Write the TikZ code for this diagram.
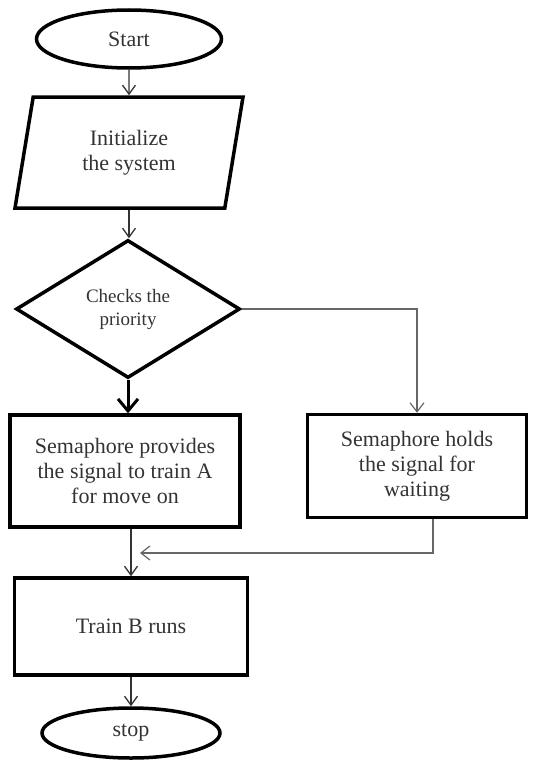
\documentclass[tikz,border=0pt]{standalone}
\usepackage{fontspec}
\setmainfont{Liberation Serif}
\usetikzlibrary{shapes.geometric,arrows.meta}
\begin{document}
\begin{tikzpicture}[x=1pt,y=-1pt,
  every node/.style={font=\fontsize{22}{25}\selectfont, text=black!80, align=center, inner sep=0pt},
  shp/.style={draw=black, line width=3.5pt},
  term/.style={shp, ellipse},
  io/.style={shp, trapezium, trapezium left angle=68, trapezium right angle=112, trapezium stretches body},
  dec/.style={shp, diamond, font=\fontsize{19}{23}\selectfont},
  proc/.style={shp, rectangle},
  arr/.style={draw=black!80, line width=1.3pt, -{Straight Barb[length=9pt,width=13pt]}},
  thickarr/.style={draw=black, line width=3pt, -{Straight Barb[length=12pt,width=20pt]}},
  garr/.style={draw=black!60, line width=1.2pt, -{Straight Barb[length=9pt,width=14pt]}}
]
\useasboundingbox (0,0) rectangle (550,760);
\node[term, minimum width=185pt, minimum height=58pt] (start) at (129,39) {Start};
\node[io, minimum width=228pt, minimum height=111pt] (init) at (129,152.5) {Initialize\\the system};
\node[dec, minimum width=224pt, minimum height=138pt] (chk) at (128,309) {Checks the\\priority};
\node[proc, minimum width=230pt, minimum height=112pt] (boxA) at (125,471) {Semaphore provides\\the signal to train A\\for move on};
\node[proc, minimum width=219pt, minimum height=103pt] (boxB) at (417,466) {Semaphore holds\\the signal for\\waiting};
\node[proc, minimum width=233pt, minimum height=97pt] (trainB) at (131,626.5) {Train B runs};
\node[term, minimum width=178pt, minimum height=50pt] (stop) at (131,733) {stop};
\coordinate (mj) at (140,553);

\draw[arr] (start) -- (init);
\draw[arr] (init.south) -- (init.south |- chk.north);
\draw[thickarr] (chk.south) -- (chk.south |- boxA.north);
\draw[garr] (chk.east) -| (boxB.north);
\draw[arr] (boxA.south -| trainB.north) -- (trainB.north);
\draw[garr] ([xshift=16pt]boxB.south) |- (mj);
\draw[arr] (trainB) -- (stop);
\end{tikzpicture}
\end{document}
